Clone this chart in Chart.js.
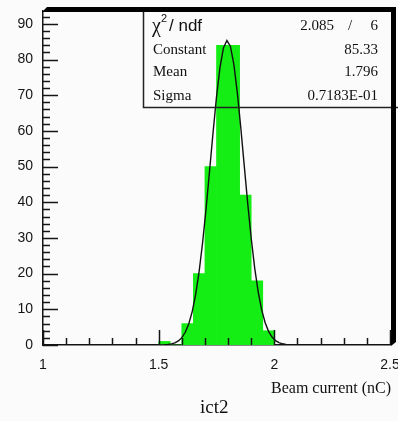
<!DOCTYPE html>
<html>
<head>
<meta charset="utf-8">
<title>ict2</title>
<script src="https://cdn.jsdelivr.net/npm/chart.js@4.4.1/dist/chart.umd.min.js"></script>
<style>
  html, body { margin: 0; padding: 0; background: #fbfbfb; }
  #wrap { width: 398px; height: 421px; position: relative; }
</style>
</head>
<body>
<div id="wrap"><canvas id="histo"></canvas></div>
<script>
// histogram bins (width 0.05 nC)
const binCenters = [1.525, 1.575, 1.625, 1.675, 1.725, 1.775, 1.825, 1.875, 1.925, 1.975];
const binCounts = [1, 0, 6, 20, 50, 84, 84, 42, 18, 4];

// axis ticks
const xTicks = [1, 1.5, 2, 2.5];
const yTicks = [0, 10, 20, 30, 40, 50, 60, 70, 80, 90];

// gaussian fit results
const fitNames = ['Constant', 'Mean', 'Sigma'];
const fitValues = [85.33, 1.796, 0.07183];
const fitText = ['85.33', '1.796', '0.7183E-01'];
const chi2Text = '2.085';
const ndfText = '6';

const xMin = 1, xMax = 2.5, yMax = 93.6;

// fit curve evaluated like ROOT does (100 points over the axis range)
const [fitC, fitMean, fitSigma] = fitValues;
const fitCurve = [];
for (let i = 0; i <= 100; i++) {
  const xv = xMin + (xMax - xMin) * i / 100;
  const z = (xv - fitMean) / fitSigma;
  fitCurve.push({ x: xv, y: fitC * Math.exp(-0.5 * z * z) });
}

const serif = '"Liberation Serif", "DejaVu Serif", serif';
const sans = '"Liberation Sans", Arial, sans-serif';

// keep the plot frame where the layout padding puts it
const noScalePadding = (s) => {
  s.paddingLeft = 0; s.paddingRight = 0;
  s.paddingTop = 0; s.paddingBottom = 0;
};

// inward ticks, stats box and the thick frame edge
const rootFrame = {
  id: 'rootFrame',
  afterDraw(chart) {
    const { ctx, chartArea: { left, right, top, bottom }, scales: { x, y } } = chart;
    ctx.save();
    ctx.strokeStyle = '#151515';
    ctx.lineWidth = 1.5;
    ctx.beginPath();
    for (let i = 0; i * 2 < yMax - 1; i++) {
      const py = Math.round(y.getPixelForValue(i * 2)) + 0.5;
      const len = i % 5 === 0 ? 15 : 7;
      ctx.moveTo(left, py);
      ctx.lineTo(left + len, py);
    }
    for (let i = 0; i <= 15; i++) {
      const px = Math.round(x.getPixelForValue(xMin + i * 0.1)) + 0.5;
      const len = i % 5 === 0 ? 15 : 7;
      ctx.moveTo(px, bottom);
      ctx.lineTo(px, bottom - len);
    }
    ctx.stroke();

    // stats box outline (no fill)
    const boxL = 143, boxB = 107;
    ctx.strokeStyle = '#222';
    ctx.beginPath();
    ctx.moveTo(boxL + 0.5, top);
    ctx.lineTo(boxL + 0.5, boxB + 0.5);
    ctx.lineTo(398, boxB + 0.5);
    ctx.stroke();

    // thick top/right edge of the frame
    ctx.fillStyle = '#000';
    ctx.beginPath();
    ctx.moveTo(left - 1, top + 1);
    ctx.lineTo(left + 4, top - 4);
    ctx.lineTo(right + 6, top - 4);
    ctx.lineTo(right + 6, bottom - 3);
    ctx.lineTo(right + 1, bottom + 1);
    ctx.lineTo(right + 1, top + 1);
    ctx.closePath();
    ctx.fill();

    // stats box text
    ctx.fillStyle = '#111';
    ctx.textBaseline = 'middle';
    ctx.textAlign = 'left';
    ctx.font = '20px ' + serif;
    ctx.fillText('\u03C7', 152, 27);
    ctx.font = '11px ' + sans;
    ctx.fillText('2', 161, 19);
    ctx.font = '17px ' + sans;
    ctx.fillText('/ ndf', 169, 26);

    ctx.font = '15px ' + serif;
    const rows = [50, 72, 96];
    fitNames.forEach((name, i) => ctx.fillText(name, 153, rows[i]));
    ctx.textAlign = 'right';
    fitText.forEach((t, i) => ctx.fillText(t, 378, rows[i]));
    ctx.fillText(ndfText, 378, 26);
    ctx.fillText(chi2Text, 334, 26);
    ctx.textAlign = 'center';
    ctx.fillText('/', 350, 26);

    // axis title and histogram name
    ctx.textAlign = 'right';
    ctx.font = '16px ' + serif;
    ctx.fillText('Beam current (nC)', right + 1, 389);
    ctx.textAlign = 'left';
    ctx.font = '19px ' + serif;
    ctx.fillText('ict2', 200, 408);
    ctx.restore();
  }
};

new Chart(document.getElementById('histo'), {
  type: 'bar',
  data: {
    datasets: [
      {
        type: 'line',
        data: fitCurve,
        borderColor: '#111',
        borderWidth: 1.4,
        pointRadius: 0,
        tension: 0,
        fill: false,
        order: 0
      },
      {
        type: 'bar',
        data: binCenters.map((c, i) => ({ x: c, y: binCounts[i] })),
        backgroundColor: 'rgb(20, 238, 20)',
        borderWidth: 0,
        barPercentage: 1,
        categoryPercentage: 1,
        order: 1
      }
    ]
  },
  options: {
    responsive: true,
    maintainAspectRatio: false,
    animation: false,
    layout: { autoPadding: false, padding: { left: 0, top: 11, right: 8, bottom: 0 } },
    plugins: { legend: { display: false }, tooltip: { enabled: false } },
    scales: {
      x: {
        type: 'linear',
        min: xMin,
        max: xMax,
        offset: false,
        grid: { display: false, drawTicks: false, offset: false },
        border: { display: true, color: '#151515', width: 1.5 },
        afterFit: (s) => { s.height = 76; noScalePadding(s); },
        afterBuildTicks: (s) => { s.ticks = xTicks.map(v => ({ value: v })); },
        ticks: {
          padding: 12,
          color: '#151515',
          font: { family: sans, size: 14 },
          callback: (v) => String(v)
        }
      },
      y: {
        min: 0,
        max: yMax,
        grid: { display: false, drawTicks: false },
        border: { display: true, color: '#151515', width: 1.5 },
        afterFit: (s) => { s.width = 43; noScalePadding(s); },
        afterBuildTicks: (s) => { s.ticks = yTicks.map(v => ({ value: v })); },
        ticks: {
          padding: 10,
          color: '#151515',
          font: { family: sans, size: 14 },
          callback: (v) => String(v)
        }
      }
    }
  },
  plugins: [rootFrame]
});
</script>
</body>
</html>
